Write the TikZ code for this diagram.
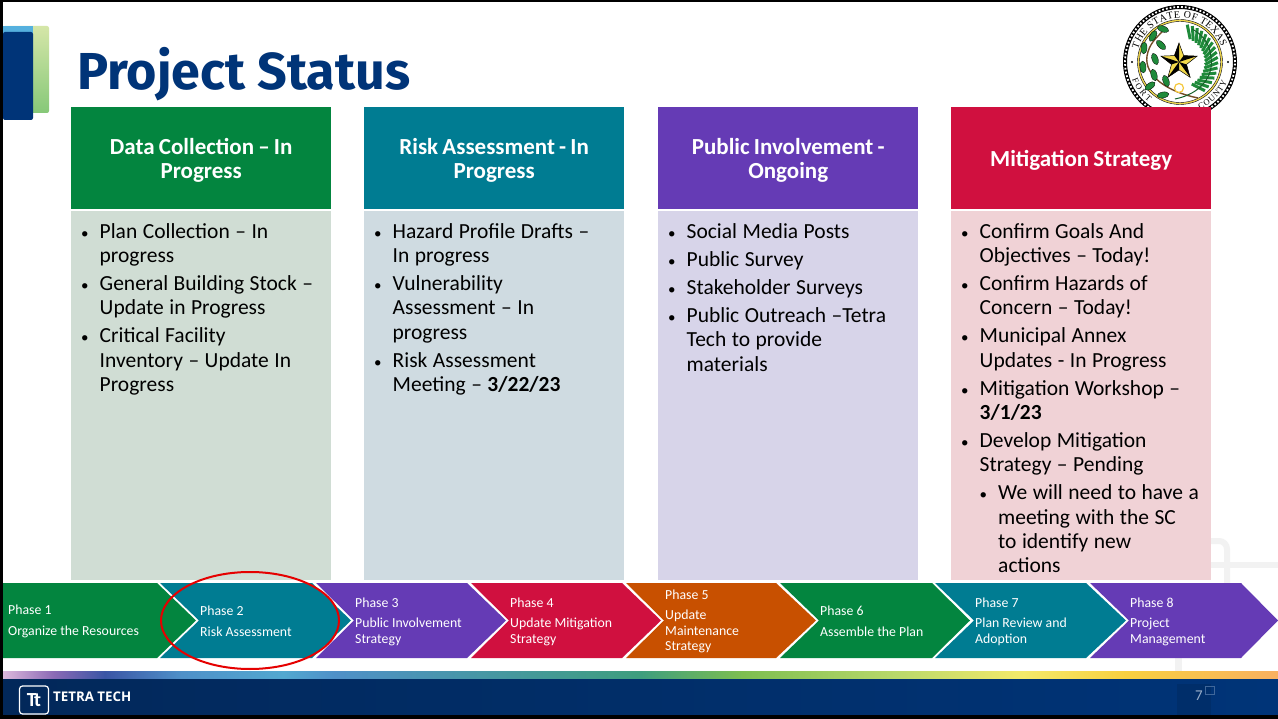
\documentclass[tikz,border=0pt]{standalone}
\usepackage{fontspec}
\setmainfont{Carlito}
\newfontfamily\titlefont{Fira Sans}
\newfontfamily\brandfont{Open Sans}
\newfontfamily\sealfont{Liberation Serif}
\usetikzlibrary{shapes.geometric,decorations.text}

\definecolor{phasegreen}{HTML}{03853F}
\definecolor{phaseteal}{HTML}{007C92}
\definecolor{phasepurple}{HTML}{653BB5}
\definecolor{phasered}{HTML}{D0103F}
\definecolor{phaseorange}{HTML}{C85000}
\definecolor{bodygreen}{HTML}{D0DDD4}
\definecolor{bodyteal}{HTML}{CFDBE1}
\definecolor{bodypurple}{HTML}{D7D4E9}
\definecolor{bodyred}{HTML}{F0D2D6}
\definecolor{navy}{HTML}{003478}
\definecolor{footerdark}{HTML}{02285A}
\definecolor{ghost}{HTML}{F2F2F2}
\definecolor{sealgreen}{HTML}{1F8A3A}
\definecolor{sealgold}{HTML}{F3DA4B}
\definecolor{tabtop}{HTML}{D5E6A8}
\definecolor{tabmid}{HTML}{B9D23A}
\definecolor{tabbottom}{HTML}{86C878}
\definecolor{tabblue}{HTML}{55B0DE}
\definecolor{stripa}{HTML}{DDB8DC}
\definecolor{stripb}{HTML}{8A6AB5}
\definecolor{stripc}{HTML}{3A55A5}
\definecolor{stripd}{HTML}{4F90C8}
\definecolor{stripe}{HTML}{52A8D0}
\definecolor{stripf}{HTML}{3E9E7E}
\definecolor{stripg}{HTML}{7DBE50}
\definecolor{striph}{HTML}{B9D86A}
\definecolor{stripi}{HTML}{F4EA6A}
\definecolor{stripj}{HTML}{F8D040}
\definecolor{stripk}{HTML}{F9B060}

\pgfdeclarehorizontalshading{stripshade}{100bp}{
  color(0bp)=(stripa);
  color(25bp)=(stripa);
  color(27bp)=(stripb);
  color(29bp)=(stripc);
  color(32bp)=(stripd);
  color(36bp)=(stripe);
  color(38bp)=(stripd);
  color(50bp)=(stripf);
  color(54bp)=(stripg);
  color(60bp)=(striph);
  color(65bp)=(stripi);
  color(69bp)=(stripj);
  color(75bp)=(stripk);
  color(100bp)=(stripk)}

\newenvironment{bulletlist}{\begin{list}{\fontsize{15}{15}\selectfont\textbullet}{%
  \setlength{\leftmargin}{18.5pt}\setlength{\labelwidth}{8pt}\setlength{\labelsep}{11pt}%
  \setlength{\itemsep}{3.9pt}\setlength{\parsep}{0pt}\setlength{\topsep}{0pt}\setlength{\partopsep}{0pt}}\raggedright\spaceskip=5.5pt\relax}{\end{list}}
\newcommand{\headstart}{\rule{0pt}{21pt}\spaceskip=4.2pt\relax}

\begin{document}
\begin{tikzpicture}[x=1pt,y=-1pt,
    header/.style ={anchor=north west, minimum width=260pt, minimum height=102pt, inner sep=0pt, text width=250pt,
      align=center, text=white, font=\fontsize{23}{24.3}\selectfont\bfseries,
      execute at begin node=\headstart},
    panel/.style ={anchor=north west, inner sep=0pt, text width=250pt, font=\fontsize{21.5}{24.2}\selectfont},
    panelback/.style ={anchor=north west, minimum width=260pt, minimum height=369pt, inner sep=0pt},
    phasetext/.style ={anchor=west, inner sep=0pt, align=left, text=white,
      font=\fontsize{13.8}{15.5}\selectfont},
    leaf/.style ={ellipse, fill=sealgreen, draw=black, line width=.3pt, minimum width=12pt, minimum height=6pt, inner sep=0pt}]
   \useasboundingbox (0,0) rectangle (1278,719);
   \fill[white] (0,0) rectangle (1278,719);

   % corner tab
   \shade[top color=tabtop, middle color=tabmid, bottom color=tabbottom, rounded corners=2pt]
      (3,26) rectangle (49,113);
   \fill[tabblue] (3,26) rectangle (33,33);
   \fill[navy, rounded corners=2pt] (3,32) rectangle (33,120);
   \node[anchor=west, inner sep=0pt, text=navy] (title) at (77,74)
      {\fontsize{52}{58}\titlefont\bfseries Project Status};

   % seal
   \begin{scope}[shift={(1180,62)}, y=1pt]
      \draw[line width=4pt, black] (0,0) circle (55);
      \draw[line width=1.8pt, white, dotted] (0,0) circle (55);
      \draw[line width=1.6pt, sealgold] (0,0) circle (41.5);
      \draw[line width=.4pt] (0,0) circle (42.5);
      \draw[line width=.4pt] (0,0) circle (40.5);
      \path[decorate, decoration={text along path, text align=fit to path,
         text={|\fontsize{10}{11}\sealfont|THE STATE OF TEXAS}}] (163:44) arc (163:20:44);
      \path[decorate, decoration={text along path, text align=fit to path,
         text={|\fontsize{8.5}{10}\sealfont|FORT}}] (200:51) arc (200:232:51);
      \path[decorate, decoration={text along path, text align=fit to path,
         text={|\fontsize{8.5}{10}\sealfont|COUNTY}}] (293:51) arc (293:337:51);
      \fill (180:48) circle (1.2);
      \fill (0:48) circle (1.2);
      % branches
      \draw[line width=1.4pt, brown!60!black] (18,-36) .. controls (-12,-30) and (-36,-14) .. (-33,6)
         .. controls (-31,18) and (-24,24) .. (-17,31);
      \node[leaf, rotate=-20] (oak1) at (-17,33) {};
      \node[leaf, rotate=60] (oak2) at (-27,26) {};
      \node[leaf, rotate=-45] (oak3) at (-19,17) {};
      \node[leaf, rotate=85] (oak4) at (-36,14) {};
      \node[leaf, rotate=-70] (oak5) at (-25,3) {};
      \node[leaf, rotate=95] (oak6) at (-37,-5) {};
      \node[leaf, rotate=-75] (oak7) at (-26,-13) {};
      \node[leaf, rotate=35] (oak8) at (-30,-24) {};
      \node[leaf, rotate=-70] (oak9) at (-14,-19) {};
      \node[leaf, rotate=10] (oak10) at (-17,-33) {};
      \foreach \frond in {-62,-54,...,70}
         \draw[line width=3pt, sealgreen] (\frond:25) -- (\frond+13:38);
      \draw[line width=1pt, sealgreen!70!black] (-5,-37) .. controls (20,-32) and (34,-15) .. (31,5)
         .. controls (30,18) and (22,28) .. (12,33);
      \draw[line width=1.2pt, sealgold!80!orange, fill=white] (-1,-26) circle (4.5);
      % star
      \node[star, star points=5, star point ratio=2.4, fill=sealgold, draw=black, line width=.5pt,
         minimum size=38pt, inner sep=0pt] (sealstar) at (-1,0) {};
      \foreach \tip in {90,162,234,306,18}
         \fill[black, shift={(-1,0)}] (0,0) -- (\tip:19) -- (\tip+36:7.9) -- cycle;
   \end{scope}

   % faint marks
   \draw[ghost, line width=6pt, rounded corners=8pt] (1205,541) -- (1227,541) -- (1227,585);
   \draw[ghost, line width=6pt] (1205,565) -- (1278,565);
   \draw[ghost, line width=7pt] (1178,655) -- (1178,672);

   % column backgrounds
   \node[panelback, fill=bodygreen] (back1) at (71,211) {};
   \node[panelback, fill=bodyteal] (back2) at (364,211) {};
   \node[panelback, fill=bodypurple] (back3) at (658,211) {};
   \node[panelback, fill=bodyred] (back4) at (951,211) {};

   % column headers
   \node[header, fill=phasegreen] (head1) at (71,107) {Data Collection -- In\\Progress};
   \node[header, fill=phaseteal] (head2) at (364,107) {Risk Assessment - In\\Progress};
   \node[header, fill=phasepurple] (head3) at (658,107) {Public Involvement -\\Ongoing};
   \node[header, fill=phasered] (head4) at (951,107) {Mitigation Strategy};

   % column texts
   \node[panel] (list1) at (81,214) {\begin{bulletlist}
      \item Plan Collection -- In\newline progress
      \item General Building Stock --\newline Update in Progress
      \item Critical Facility\newline Inventory -- Update In\newline Progress
   \end{bulletlist}};
   \node[panel] (list2) at (374,214) {\begin{bulletlist}
      \item Hazard Profile Drafts --\newline In progress
      \item Vulnerability\newline Assessment -- In\newline progress
      \item Risk Assessment\newline Meeting -- \textbf{3/22/23}
   \end{bulletlist}};
   \node[panel] (list3) at (668,214) {\begin{bulletlist}
      \item Social Media Posts
      \item Public Survey
      \item Stakeholder Surveys
      \item Public Outreach --Tetra\newline Tech to provide\newline materials
   \end{bulletlist}};
   \node[panel] (list4) at (961,214) {\begin{bulletlist}
      \item Confirm Goals And\newline Objectives -- Today!
      \item Confirm Hazards of\newline Concern -- Today!
      \item Municipal Annex\newline Updates - In Progress
      \item Mitigation Workshop --\newline \textbf{3/1/23}
      \item Develop Mitigation\newline Strategy -- Pending
      \vspace{3.9pt}
      \begin{bulletlist}
         \item We will need to have a\newline meeting with the SC\newline to identify new\newline actions
      \end{bulletlist}
   \end{bulletlist}};

   % phase arrows
   \fill[phasegreen] (3,583) -- (157,583) -- (196,620.5) -- (157,658) -- (3,658) -- cycle;
   \fill[phaseteal] (160,583) -- (312,583) -- (351,620.5) -- (312,658) -- (160,658) -- (199,620.5) -- cycle;
   \fill[phasepurple] (316,583) -- (467,583) -- (506,620.5) -- (467,658) -- (316,658) -- (354,620.5) -- cycle;
   \fill[phasered] (471,583) -- (622,583) -- (661,620.5) -- (622,658) -- (471,658) -- (509,620.5) -- cycle;
   \fill[phaseorange] (626,583) -- (776,583) -- (816,620.5) -- (776,658) -- (626,658) -- (664,620.5) -- cycle;
   \fill[phasegreen] (780,583) -- (932,583) -- (970,620.5) -- (932,658) -- (780,658) -- (819,620.5) -- cycle;
   \fill[phaseteal] (935,583) -- (1086,583) -- (1126,620.5) -- (1086,658) -- (935,658) -- (974,620.5) -- cycle;
   \fill[phasepurple] (1090,583) -- (1241,583) -- (1278,620.5) -- (1241,658) -- (1090,658) -- (1129,620.5) -- cycle;

   \node[phasetext] (phase1) at (8,621.5) {Phase 1\\[5pt]Organize the Resources};
   \node[phasetext] (phase2) at (200,621.5) {Phase 2\\[5pt]Risk Assessment};
   \node[phasetext] (phase3) at (355,621.5) {Phase 3\\[5pt]Public Involvement\\Strategy};
   \node[phasetext] (phase4) at (510,621.5) {Phase 4\\[5pt]Update Mitigation\\Strategy};
   \node[phasetext] (phase5) at (665,621.5) {Phase 5\\[5pt]Update\\Maintenance\\Strategy};
   \node[phasetext] (phase6) at (820,621.5) {Phase 6\\[5pt]Assemble the Plan};
   \node[phasetext] (phase7) at (975,621.5) {Phase 7\\[5pt]Plan Review and\\Adoption};
   \node[phasetext] (phase8) at (1130,621.5) {Phase 8\\[5pt]Project\\Management};

   \draw[red!90!black, line width=2pt] (250,620.5) ellipse (89 and 48.5);

   % footer
   \shade[shading=stripshade] (3,671) rectangle (1278,680);
   \shade[left color=footerdark, right color=navy] (3,679) rectangle (1278,715);
   \fill[navy!88!black] (1177,684) rectangle (1211,715);
   \draw[navy!75!white, line width=.8pt] (1205,686) rectangle (1214,694);
   \node[draw=white, line width=1.2pt, rounded corners=3pt, minimum width=29pt, minimum height=28pt, inner sep=0pt,
      text=white, font=\fontsize{20}{20}\selectfont\bfseries] (logo) at (34,700) {T\kern-2.5pt t};
   \node[anchor=west, inner sep=0pt, text=white, font=\fontsize{13.3}{14}\brandfont\bfseries] (brand) at (53,696.5) {TETRA TECH};
   \node[text=white!60!navy, inner sep=0pt, font=\fontsize{15}{16}\selectfont] (pagenum) at (1199,696) {7};

   % frame
   \fill[black] (0,0) rectangle (1278,2);
   \fill[black] (0,0) rectangle (3,719);
   \fill[black] (0,715) rectangle (1278,719);
 \end{tikzpicture}
\end{document}
